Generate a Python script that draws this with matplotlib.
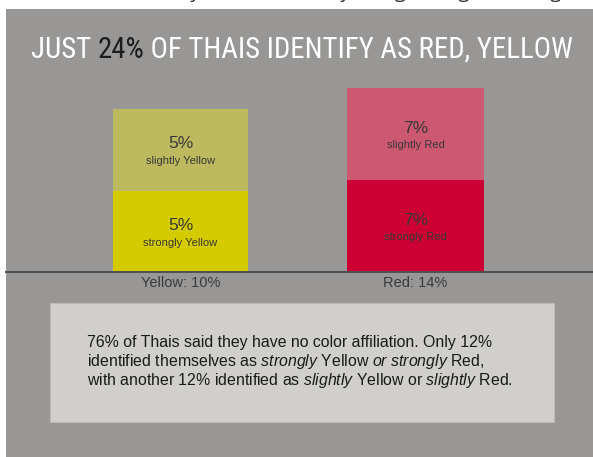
import matplotlib
matplotlib.use("Agg")
import matplotlib.pyplot as plt
from matplotlib.patches import Rectangle
from matplotlib.lines import Line2D

plt.rcParams['mathtext.fontset'] = 'custom'
plt.rcParams['mathtext.rm'] = 'Liberation Sans'
plt.rcParams['mathtext.it'] = 'Liberation Sans:italic'

# ---------------- data ----------------
groups = ["Yellow", "Red"]
strongly = [5, 7]
slightly = [5, 7]
group_labels = ["Yellow: 10%", "Red: 14%"]
strong_labels = ["strongly Yellow", "strongly Red"]
slight_labels = ["slightly Yellow", "slightly Red"]
title_parts = ["JUST ", "24%", " OF THAIS IDENTIFY AS RED, YELLOW"]
note_lines = [
    "76% of Thais said they have no color affiliation. Only 12%",
    r"identified themselves as $\mathit{strongly}$ Yellow $\mathit{or\ strongly}$ Red,",
    r"with another 12% identified as $\mathit{slightly}$ Yellow or $\mathit{slightly}$ Red.",
]
top_text = "ts Central, and surveys confirm this by a large margin. Among the g"

# ---------------- styles ----------------
strong_colors = ["#D4CC00", "#CC0033"]
slight_colors = ["#BDB95E", "#CD5872"]
title_colors = ["white", "#1c1c1c", "white"]
panel_color = "#989795"
W, H, DPI = 593, 457, 100
# column boxes in pixels: left, right, top (bottom = baseline)
col_boxes = [(113, 248, 109), (347, 484, 88)]
base_y = 272


def fx(x):
    return x / W


def fy(y):
    return 1 - y / H


fig = plt.figure(figsize=(W / DPI, H / DPI), dpi=DPI)
fig.patch.set_facecolor("white")

# cut-off text strip at the very top
fig.text(fx(3), fy(-2.5), top_text, ha='left', va='baseline', fontsize=14,
         family='Open Sans', color='#2a2a2a')

# gray panel
fig.add_artist(Rectangle((fx(6), 0), 1 - fx(6), fy(9), transform=fig.transFigure,
                         facecolor=panel_color, edgecolor='none', zorder=0))

# bars: one small axes per column
for i, g in enumerate(groups):
    l, r, t = col_boxes[i]
    ax = fig.add_axes([fx(l), fy(base_y), (r - l) / W, (base_y - t) / H])
    ax.bar(0, strongly[i], width=1, color=strong_colors[i], edgecolor='none')
    ax.bar(0, slightly[i], width=1, bottom=strongly[i], color=slight_colors[i],
           edgecolor='none')
    ax.set_xlim(-0.5, 0.5)
    ax.set_ylim(0, strongly[i] + slightly[i])
    ax.axis('off')
    for val, bottom, sub in [(strongly[i], 0, strong_labels[i]),
                             (slightly[i], strongly[i], slight_labels[i])]:
        yc = bottom + val / 2
        ax.annotate(f"{val}%", xy=(0, yc), xytext=(0, 4.2), textcoords='offset points',
                    ha='center', va='center', fontsize=12.5, family='Liberation Sans',
                    color='#383838')
        ax.annotate(sub, xy=(0, yc), xytext=(0, -8.2), textcoords='offset points',
                    ha='center', va='center', fontsize=8, family='Liberation Sans',
                    color='#383838')
    ax.annotate(group_labels[i], xy=(0.5, 0), xycoords='axes fraction',
                xytext=(0, -8), textcoords='offset points', ha='center', va='center',
                fontsize=10.5, family='Liberation Sans', color='#3a3a3a',
                annotation_clip=False)

# baseline
fig.add_artist(Line2D([fx(6), 1], [fy(base_y), fy(base_y)], transform=fig.transFigure,
                      color='#505050', lw=1.4, zorder=5))

# title (three coloured pieces chained)
title_fs = 20
texts = []
for part, col in zip(title_parts, title_colors):
    t = fig.text(fx(31), fy(58), part, ha='left', va='baseline', fontsize=title_fs,
                 family='Roboto Condensed', color=col)
    texts.append(t)

renderer = fig.canvas.get_renderer()
total = sum(t.get_window_extent(renderer).width for t in texts)
scale = 541 / total
for t in texts:
    t.set_fontsize(title_fs * scale)
x = texts[0].get_window_extent(renderer).x1
for t in texts[1:]:
    t.set_position((x / W, fy(58)))
    x = t.get_window_extent(renderer).x1

# note box
fig.add_artist(Rectangle((fx(50), fy(422)), (554 - 50) / W, (422 - 303) / H,
                         transform=fig.transFigure, facecolor='#D0CFCC',
                         edgecolor='#BBBAB7', lw=0.8, zorder=2))
for k, line in enumerate(note_lines):
    fig.text(fx(87), fy(347 + 19 * k), line, ha='left', va='baseline', fontsize=11.4,
             family='Liberation Sans', color='#1a1a1a', zorder=3)

fig.savefig("out.png", dpi=DPI)
